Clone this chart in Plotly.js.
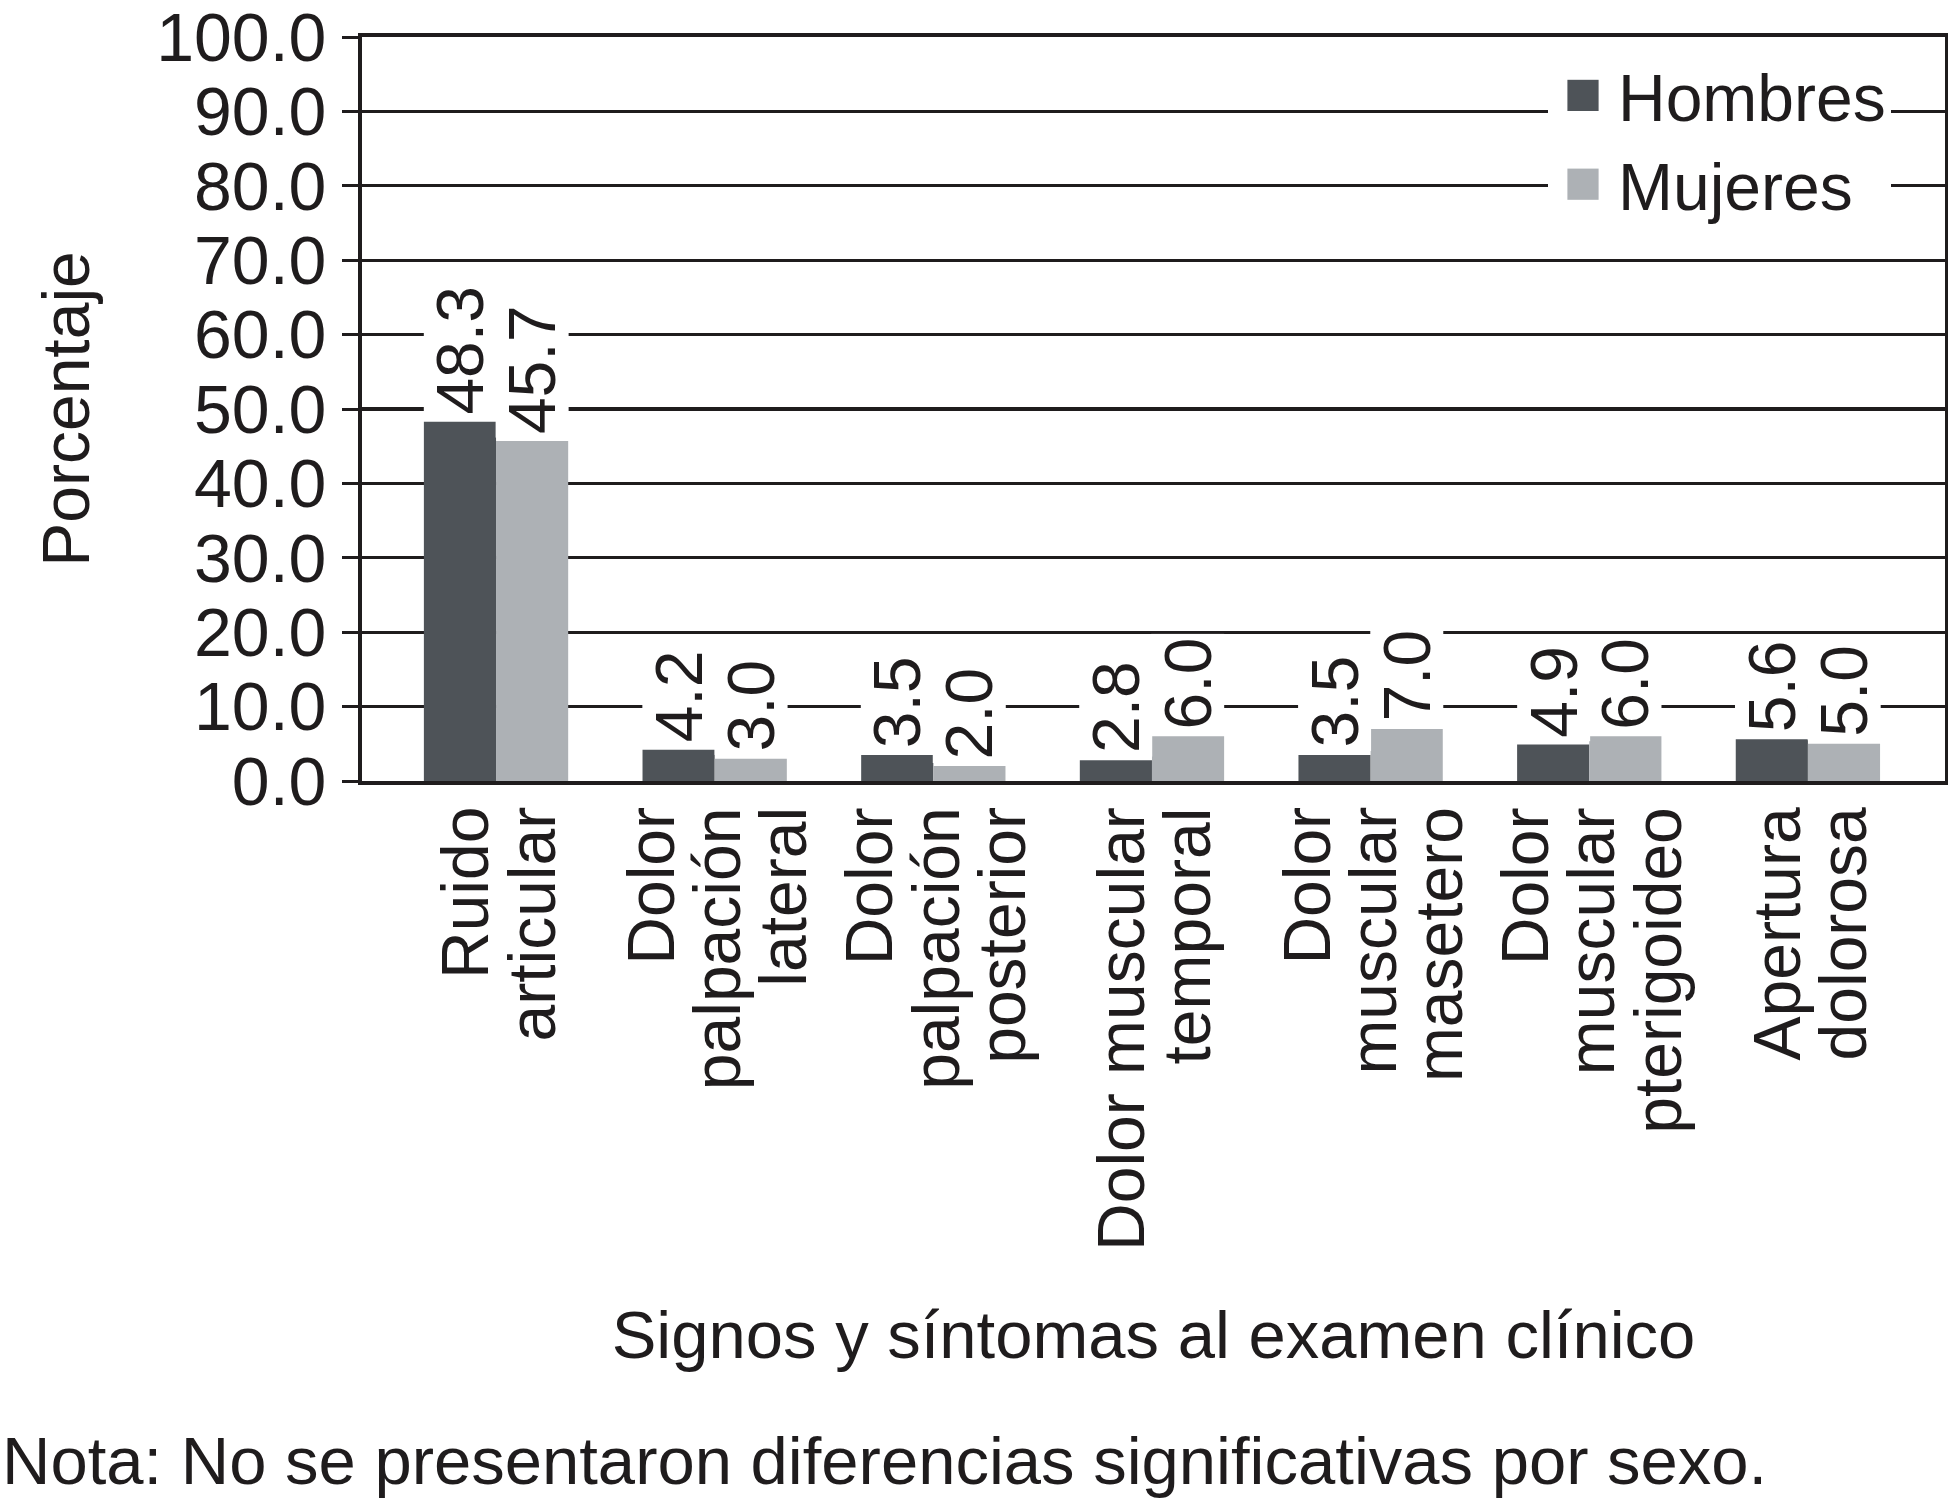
<!DOCTYPE html>
<html>
<head>
<meta charset="utf-8">
<script src="https://cdn.plot.ly/plotly-3.0.1.min.js"></script>
<style>
html,body{margin:0;padding:0;background:#fff;}
#chart{width:1948px;height:1500px;}
</style>
</head>
<body>
<div id="chart"></div>
<script>
// ---- data ----
const categories = ['Ruido articular', 'Dolor palpación lateral', 'Dolor palpación posterior',
  'Dolor muscular temporal', 'Dolor muscular masetero', 'Dolor muscular pterigoideo', 'Apertura dolorosa'];
const categoryLines = [
  ['Ruido', 'articular'],
  ['Dolor', 'palpación', 'lateral'],
  ['Dolor', 'palpación', 'posterior'],
  ['Dolor muscular', 'temporal'],
  ['Dolor', 'muscular', 'masetero'],
  ['Dolor', 'muscular', 'pterigoideo'],
  ['Apertura', 'dolorosa']
];
const hombres = [48.3, 4.2, 3.5, 2.8, 3.5, 4.9, 5.6];
const mujeres = [45.7, 3.0, 2.0, 6.0, 7.0, 6.0, 5.0];
const seriesNames = ['Hombres', 'Mujeres'];
const xTitle = 'Signos y síntomas al examen clínico';
const yTitle = 'Porcentaje';
const note = 'Nota: No se presentaron diferencias significativas por sexo.';

// ---- style ----
const FONT = '"Liberation Sans", Arial, Helvetica, sans-serif';
const INK = '#1f1c1d';
const COLORS = ['#4e5358', '#adb1b5'];
const FS = 66;
const W = 1948, H = 1500;
const M = {l: 362, r: 3, t: 37, b: 719};
const plotW = W - M.l - M.r, plotH = H - M.t - M.b;
const XR = [-0.613, 6.627];
const catPx = plotW / (XR[1] - XR[0]);
const BARGAP = 0.34;
const barPx = catPx * (1 - BARGAP) / 2;

const series = [hombres, mujeres];
const traces = series.map((vals, s) => ({
  type: 'bar',
  name: seriesNames[s],
  x: categories,
  y: vals,
  marker: {color: COLORS[s], line: {width: 0}},
  legendgroup: seriesNames[s],
  hoverinfo: 'x+y+name'
}));

const annotations = [];
// value labels (white boxes hide gridlines like the original)
series.forEach((vals, s) => {
  vals.forEach((v, i) => {
    annotations.push({
      x: categories[i], y: v, xref: 'x', yref: 'y',
      text: v.toFixed(1), textangle: -90, showarrow: false,
      xanchor: 'center', yanchor: 'bottom',
      xshift: (s === 0 ? -1 : 1) * barPx / 2, yshift: 3,
      bgcolor: '#ffffff', borderpad: 3, height: barPx - 6,
      font: {family: FONT, size: FS, color: INK}
    });
  });
});
// category labels, one line each, rotated
const LINE = 66;
categoryLines.forEach((lines, i) => {
  lines.forEach((ln, j) => {
    annotations.push({
      x: categories[i], y: 0, xref: 'x', yref: 'paper',
      text: ln, textangle: -90, showarrow: false,
      xanchor: 'center', yanchor: 'top',
      xshift: (j - (lines.length - 1) / 2) * LINE + 2, yshift: -24,
      font: {family: FONT, size: FS, color: INK}
    });
  });
});
// note
annotations.push({
  xref: 'paper', yref: 'paper', x: (0 - M.l) / plotW, y: (M.t + plotH - 1460) / plotH,
  xanchor: 'left', yanchor: 'middle', showarrow: false, text: note,
  font: {family: FONT, size: 67, color: INK}
});

const layout = {
  width: W, height: H,
  margin: M,
  paper_bgcolor: '#ffffff', plot_bgcolor: '#ffffff',
  font: {family: FONT, size: FS, color: INK},
  barmode: 'group', bargap: BARGAP, bargroupgap: 0,
  showlegend: true,
  legend: {
    x: (1548 - M.l) / plotW, xanchor: 'left',
    y: (M.t + plotH - 46) / plotH, yanchor: 'top',
    bgcolor: '#ffffff', borderwidth: 0,
    font: {family: FONT, size: FS, color: INK},
    itemwidth: 60, traceorder: 'grouped', tracegroupgap: 0
  },
  xaxis: {
    type: 'category', range: XR, fixedrange: true,
    showline: true, linewidth: 4, linecolor: INK, mirror: true,
    ticks: '', showticklabels: false, showgrid: false, zeroline: false,
    title: {text: xTitle, font: {family: FONT, size: 67, color: INK}, standoff: 528}
  },
  xaxis2: {
    overlaying: 'x', anchor: 'y', side: 'bottom', range: XR, fixedrange: true,
    tickmode: 'array', tickvals: [-0.61, 0.5, 1.5, 2.5, 3.5, 4.5, 5.5, 6.62],
    ticks: 'outside', ticklen: 15, tickwidth: 3, tickcolor: INK,
    showticklabels: false, showgrid: false, zeroline: false, showline: false
  },
  yaxis: {
    range: [0, 100], dtick: 10, tick0: 0, tickformat: '.1f', fixedrange: true,
    showline: true, linewidth: 4, linecolor: INK, mirror: true,
    ticks: 'outside', ticklen: 16, tickwidth: 3, tickcolor: INK,
    ticklabelstandoff: 2, ticklabeloverflow: 'allow',
    showgrid: true, gridcolor: INK, gridwidth: 3.2, zeroline: false,
    tickfont: {family: FONT, size: 68, color: INK},
    title: {text: yTitle, font: {family: FONT, size: FS, color: INK}, standoff: 46}
  },
  annotations: annotations
};

Plotly.newPlot('chart', traces, layout, {staticPlot: true, displayModeBar: false}).then(gd => {
  gd.querySelectorAll('.legend .legendpoints path').forEach(p => {
    p.setAttribute('transform', (p.getAttribute('transform') || '') + ' scale(2.6)');
  });
});
</script>
</body>
</html>
